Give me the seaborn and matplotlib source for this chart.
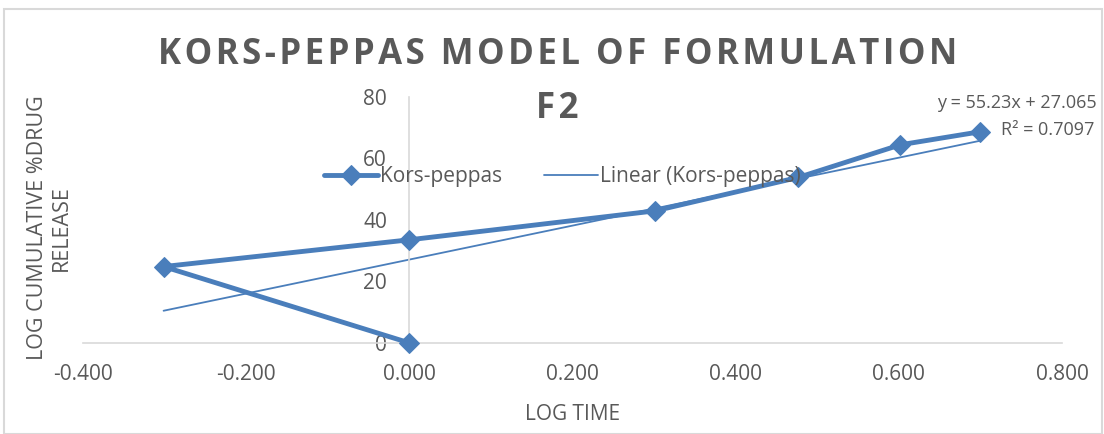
import matplotlib.pyplot as plt
import numpy as np
import pandas as pd
import seaborn as sns
from matplotlib.patches import Rectangle

# log time vs log cumulative % drug release
log_time = [0.000, -0.301, 0.000, 0.301, 0.477, 0.602, 0.699]
log_release = [0.0, 24.8, 33.5, 42.9, 53.8, 64.4, 68.6]
slope = 55.23
intercept = 27.065
r_squared = 0.7097

blue = '#4a7ebb'
grey = '#595959'

sns.set_style('white')
plt.rcParams['font.family'] = ['Open Sans', 'DejaVu Sans']

df = pd.DataFrame({'x': log_time, 'y': log_release})

fig = plt.figure(figsize=(11.04, 4.34), dpi=100)
ax = fig.add_axes([0.075, 0.21, 0.887, 0.567])

sns.lineplot(data=df, x='x', y='y', sort=False, estimator=None, ax=ax,
             color=blue, lw=3.5, marker='D', markersize=10,
             markeredgecolor=blue, label='Kors-peppas', clip_on=False, zorder=5)

# trendline over data range
xs = np.array([min(log_time), max(log_time)])
ax.plot(xs, slope * xs + intercept, color=blue, lw=1.3, label='Linear (Kors-peppas)')

ax.set_xlim(-0.4, 0.8)
ax.set_ylim(0, 80)
ax.set_xticks(np.arange(-0.4, 0.81, 0.2))
ax.set_xticklabels([f'{v:.3f}' for v in np.arange(-0.4, 0.81, 0.2)])
ax.set_yticks([0, 20, 40, 60, 80])

# axes cross at zero, light grey like Excel
for s in ['top', 'right']:
    ax.spines[s].set_visible(False)
ax.spines['left'].set_position(('data', 0))
ax.spines['left'].set_color('#d9d9d9')
ax.spines['bottom'].set_color('#d9d9d9')
ax.spines['left'].set_linewidth(1.2)
ax.spines['bottom'].set_linewidth(1.2)
ax.tick_params(axis='both', colors='#d9d9d9', labelcolor=grey, labelsize=15,
               length=5, width=1.2, direction='out')
ax.tick_params(axis='x', pad=10)
ax.tick_params(axis='y', pad=11)

ax.set_xlabel('LOG TIME', color=grey, fontsize=15, labelpad=14)
ax.set_ylabel('')
fig.text(0.045, 0.475, 'LOG CUMULATIVE %DRUG\nRELEASE', rotation=90, color=grey,
         fontsize=15.5, ha='center', va='center', multialignment='center',
         linespacing=1.2)

hair = '\u200a'
title = hair.join('KORS-PEPPAS MODEL OF FORMULATION')
fig.text(0.505, 0.873, title, ha='center', va='center',
         fontsize=25, fontweight='bold', color=grey)
fig.text(0.505, 0.75, hair.join('F2'), ha='center', va='center',
         fontsize=25, fontweight='bold', color=grey)

fig.text(0.921, 0.762, f'y = {slope}x + {intercept}', ha='center', va='center',
         fontsize=13, color=grey)
fig.text(0.949, 0.70, f'R² = {r_squared}', ha='center', va='center',
         fontsize=13, color=grey)

ax.legend(loc='center', bbox_to_anchor=(0.49, 0.675), ncol=2, frameon=False,
          fontsize=15, labelcolor=grey, handlelength=2.6, columnspacing=2.0,
          handletextpad=0.1)

fig.patches.append(Rectangle((0.004, 0.0), 0.994, 0.98, transform=fig.transFigure,
                             fill=False, edgecolor='#d9d9d9', lw=1.5))

fig.savefig('out.png', dpi=100)
